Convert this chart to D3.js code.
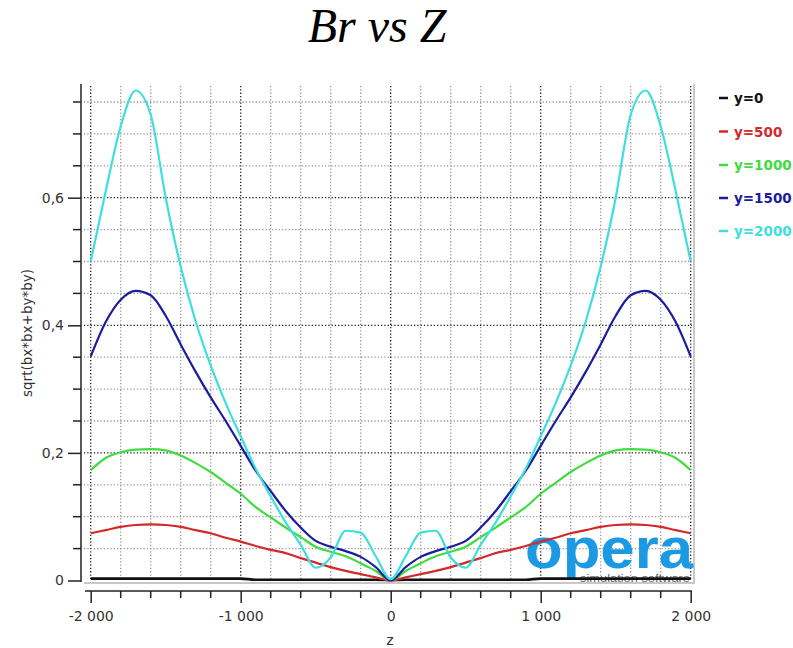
<!DOCTYPE html>
<html>
<head>
<meta charset="utf-8">
<script src="https://cdn.jsdelivr.net/npm/d3@7"></script>
<style>
  html, body { margin: 0; padding: 0; background: #fff; }
  svg { display: block; }
</style>
</head>
<body>
<svg id="chart" width="793" height="648"></svg>
<script>
// ---- data ----
const zValues = [-2000,-1900,-1800,-1700,-1600,-1500,-1400,-1300,-1200,-1100,-1000,-900,-800,-700,-600,-500,-400,-300,-200,-100,0,
                 100,200,300,400,500,600,700,800,900,1000,1100,1200,1300,1400,1500,1600,1700,1800,1900,2000];

const seriesNames = ["y=0", "y=500", "y=1000", "y=1500", "y=2000"];
const seriesColors = ["#111111", "#d22a2a", "#3fdc3f", "#1c1c9c", "#3fdede"];

const y0Values = [0.003,0.003,0.003,0.003,0.003,0.003,0.003,0.003,0.003,0.003,0.003,0.0012,0.0012,0.0012,0.0012,0.0012,0.0012,0.0012,0.0012,0.0012,0.0008,
                  0.0012,0.0012,0.0012,0.0012,0.0012,0.0012,0.0012,0.0012,0.0012,0.003,0.003,0.003,0.003,0.003,0.003,0.003,0.003,0.003,0.003,0.003];
const y500Values = [0.074,0.079,0.084,0.087,0.088,0.087,0.084,0.079,0.074,0.067,0.061,0.054,0.048,0.043,0.035,0.028,0.021,0.015,0.010,0.005,0,
                    0.005,0.010,0.015,0.021,0.028,0.035,0.043,0.048,0.054,0.061,0.067,0.074,0.079,0.084,0.087,0.088,0.087,0.084,0.079,0.074];
const y1000Values = [0.173,0.192,0.201,0.205,0.206,0.204,0.196,0.184,0.170,0.153,0.136,0.115,0.099,0.083,0.068,0.053,0.045,0.038,0.027,0.015,0,
                     0.015,0.027,0.038,0.045,0.053,0.068,0.083,0.099,0.115,0.136,0.153,0.170,0.184,0.196,0.204,0.206,0.205,0.201,0.192,0.173];
const y1500Values = [0.351,0.405,0.440,0.454,0.447,0.415,0.370,0.327,0.287,0.250,0.211,0.172,0.140,0.109,0.083,0.062,0.053,0.046,0.037,0.021,0,
                     0.021,0.037,0.046,0.053,0.062,0.083,0.109,0.140,0.172,0.211,0.250,0.287,0.327,0.370,0.415,0.447,0.454,0.440,0.405,0.351];
const y2000Values = [0.500,0.610,0.712,0.768,0.730,0.600,0.492,0.406,0.337,0.278,0.226,0.175,0.132,0.091,0.056,0.020,0.036,0.078,0.075,0.038,0.002,
                     0.038,0.075,0.078,0.036,0.020,0.056,0.091,0.132,0.175,0.226,0.278,0.337,0.406,0.492,0.600,0.730,0.768,0.712,0.610,0.500];

const seriesValues = [y0Values, y500Values, y1000Values, y1500Values, y2000Values];

const xTickValues = [-2000, -1000, 0, 1000, 2000];
const xTickLabels = ["-2 000", "-1 000", "0", "1 000", "2 000"];
const yTickValues = [0, 0.2, 0.4, 0.6];
const yTickLabels = ["0", "0,2", "0,4", "0,6"];

const titleText = "Br vs Z";
const xAxisTitle = "z";
const yAxisTitle = "sqrt(bx*bx+by*by)";

// ---- layout ----
const svg = d3.select("#chart");
const plotLeft = 84, plotRight = 694, plotTop = 84, plotBottom = 582;

const x = d3.scaleLinear().domain([-2000, 2000]).range([90.7, 690.7]);
const y = d3.scaleLinear().domain([0, 0.75]).range([580.5, 102]);

const font = "'DejaVu Sans', Verdana, sans-serif";

// title
svg.append("text")
  .attr("x", 377).attr("y", 42)
  .attr("text-anchor", "middle")
  .attr("font-family", "'Liberation Serif', 'Times New Roman', serif")
  .attr("font-style", "italic")
  .attr("font-size", 48)
  .attr("fill", "#000")
  .text(titleText);

// gridlines
const grid = svg.append("g");
const xGrid = d3.range(-2000, 2001, 200);
const yGrid = d3.range(0.05, 0.751, 0.05);
grid.selectAll("line.vx").data(xGrid).enter().append("line")
  .attr("x1", d => x(d)).attr("x2", d => x(d))
  .attr("y1", plotTop + 2).attr("y2", y(0))
  .attr("stroke", d => (Math.abs(d) % 1000 === 0) ? "#222" : "#999")
  .attr("stroke-width", 1.3)
  .attr("stroke-dasharray", "1.3,2");
grid.selectAll("line.hy").data(yGrid).enter().append("line")
  .attr("x1", plotLeft).attr("x2", plotRight - 2)
  .attr("y1", d => y(d)).attr("y2", d => y(d))
  .attr("stroke", d => (Math.abs(Math.round(d * 100)) % 20 === 0) ? "#222" : "#999")
  .attr("stroke-width", 1.3)
  .attr("stroke-dasharray", "1.3,2");

// plot frame (light shadow at right and bottom)
svg.append("line").attr("x1", plotLeft).attr("x2", plotRight).attr("y1", plotBottom + 1).attr("y2", plotBottom + 1)
  .attr("stroke", "#c8c8c8").attr("stroke-width", 2);
svg.append("line").attr("x1", plotRight).attr("x2", plotRight).attr("y1", plotTop).attr("y2", plotBottom + 2)
  .attr("stroke", "#c8c8c8").attr("stroke-width", 2);

// opera watermark
svg.append("text")
  .attr("x", 525).attr("y", 568)
  .attr("font-family", "'Liberation Sans', Arial, sans-serif")
  .attr("font-weight", "bold")
  .attr("font-size", 58)
  .attr("textLength", 168).attr("lengthAdjust", "spacingAndGlyphs")
  .attr("fill", "#1b9ae3")
  .text("opera");
svg.append("text")
  .attr("x", 580).attr("y", 582)
  .attr("font-family", "'Liberation Sans', Arial, sans-serif")
  .attr("font-size", 11)
  .attr("textLength", 110).attr("lengthAdjust", "spacingAndGlyphs")
  .attr("fill", "#666")
  .text("simulation software");

// series lines
const line = d3.line().x((d, i) => x(zValues[i])).y(d => y(d)).curve(d3.curveMonotoneX);
seriesValues.forEach((vals, k) => {
  svg.append("path")
    .datum(vals)
    .attr("d", line)
    .attr("fill", "none")
    .attr("stroke", seriesColors[k])
    .attr("stroke-width", k === 0 ? 2.6 : 2.2)
    .attr("stroke-linejoin", "round");
});

// y axis
const yAxisG = svg.append("g").attr("transform", "translate(81,0)");
yAxisG.call(d3.axisLeft(y).tickValues(yTickValues).tickSize(13).tickPadding(4)
  .tickFormat((d, i) => yTickLabels[i]));
yAxisG.select(".domain").attr("d", `M0,${plotTop}V${plotBottom}`).attr("stroke", "#222").attr("stroke-width", 1.5);
yAxisG.selectAll(".tick line").attr("stroke", "#222").attr("stroke-width", 1.5);
yAxisG.selectAll(".tick text").attr("font-family", font).attr("font-size", 14).attr("fill", "#333");
const yMinor = d3.range(0.05, 0.751, 0.05).filter(d => Math.abs(Math.round(d * 100)) % 20 !== 0);
yAxisG.selectAll("line.minor").data(yMinor).enter().append("line")
  .attr("x1", -8).attr("x2", 0).attr("y1", d => y(d)).attr("y2", d => y(d))
  .attr("stroke", "#222").attr("stroke-width", 1.5);

// x axis
const xAxisG = svg.append("g").attr("transform", "translate(0,591)");
xAxisG.call(d3.axisBottom(x).tickValues(xTickValues).tickSize(12).tickPadding(8)
  .tickFormat((d, i) => xTickLabels[i]));
xAxisG.select(".domain").attr("d", `M85,0H692`).attr("stroke", "#222").attr("stroke-width", 1.5);
xAxisG.selectAll(".tick line").attr("stroke", "#222").attr("stroke-width", 1.5);
xAxisG.selectAll(".tick text").attr("font-family", font).attr("font-size", 14).attr("fill", "#333");
const xMinor = d3.range(-2000, 2001, 200).filter(d => Math.abs(d) % 1000 !== 0);
xAxisG.selectAll("line.minor").data(xMinor).enter().append("line")
  .attr("x1", d => x(d)).attr("x2", d => x(d)).attr("y1", 0).attr("y2", 7)
  .attr("stroke", "#222").attr("stroke-width", 1.5);

// axis titles
svg.append("text")
  .attr("x", 390).attr("y", 645)
  .attr("text-anchor", "middle")
  .attr("font-family", font).attr("font-size", 14).attr("fill", "#333")
  .text(xAxisTitle);
svg.append("text")
  .attr("transform", "translate(32,333) rotate(-90)")
  .attr("text-anchor", "middle")
  .attr("font-family", font).attr("font-size", 13.5).attr("fill", "#333")
  .text(yAxisTitle);

// legend
const legend = svg.append("g");
const legendY = [98, 131.5, 165, 198, 231];
seriesNames.forEach((name, k) => {
  legend.append("line")
    .attr("x1", 719).attr("x2", 728)
    .attr("y1", legendY[k]).attr("y2", legendY[k])
    .attr("stroke", seriesColors[k]).attr("stroke-width", 2.5);
  legend.append("text")
    .attr("x", 734).attr("y", legendY[k] + 5)
    .attr("font-family", font).attr("font-size", 13.5).attr("font-weight", "bold")
    .attr("fill", k === 0 ? "#111" : seriesColors[k])
    .text(name);
});
</script>
</body>
</html>
